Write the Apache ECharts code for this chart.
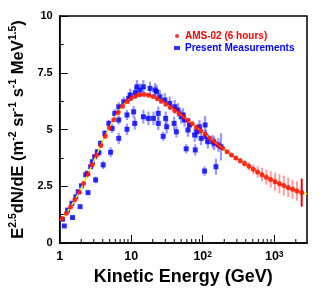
<!DOCTYPE html>
<html><head><meta charset="utf-8">
<script src="https://cdn.jsdelivr.net/npm/echarts@6/dist/echarts.min.js"></script>
<style>html,body{margin:0;padding:0;background:#fff}#c{width:327px;height:300px}</style>
</head><body><div id="c"></div>
<script>
// AMS-02 (6 hours): kinetic energy (GeV), flux, error
const amsE = [1.08,1.24,1.42,1.63,1.88,2.16,2.48,2.85,3.27,3.76,4.32,4.97,5.71,6.57,7.55,8.7,10.0,11.5,13.2,15.2,17.5,20.2,23.2,26.7,30.7,35.3,40.6,46.7,53.8,61.9,71.2,82.0,94.3,108,125,144,165,190,219,252,290,334,384,442,509,585,674,775,892,1027,1182,1360,1565,1801,2073,2420];
const amsY = [1.08,1.31,1.59,1.90,2.24,2.62,3.03,3.45,3.87,4.30,4.70,5.08,5.43,5.75,6.02,6.23,6.38,6.48,6.53,6.54,6.51,6.45,6.36,6.25,6.12,5.98,5.84,5.70,5.56,5.41,5.25,5.10,4.94,4.79,4.63,4.47,4.32,4.17,4.02,3.88,3.75,3.62,3.50,3.38,3.25,3.13,3.01,2.90,2.80,2.70,2.61,2.53,2.45,2.37,2.29,2.22];
const amsErr = [0.04,0.04,0.04,0.04,0.04,0.04,0.04,0.04,0.04,0.04,0.04,0.04,0.04,0.04,0.04,0.04,0.04,0.04,0.04,0.04,0.04,0.04,0.04,0.04,0.04,0.04,0.04,0.04,0.04,0.04,0.04,0.04,0.04,0.04,0.04,0.05,0.05,0.05,0.06,0.08,0.10,0.12,0.15,0.18,0.21,0.25,0.30,0.33,0.36,0.40,0.42,0.44,0.43,0.42,0.42,0.62];
// fitted curve (yellow)
const fitE = [1.0].concat(amsE, [2870]);
const fitY = [1.0].concat(amsY, [2.16]);
// Present Measurements
const pmE = [1.10,1.16,1.29,1.48,1.51,1.68,1.81,1.93,2.01,2.31,2.44,2.49,2.71,2.86,3.08,3.18,3.35,3.54,3.72,4.06,4.28,4.86,5.15,5.41,5.89,6.69,6.69,6.69,7.86,8.73,8.73,9.2,9.7,10.8,11.2,11.4,12.0,13.3,14.8,14.8,17.4,18.3,20.5,21.5,22.6,23.9,23.9,25.2,28.0,29.5,30.3,31.3,34.6,39.8,40.6,42.8,45.0,50.0,53.0,55.7,58.7,62.0,65.5,77.0,78.6,83.0,90.0,95.0,106,108,111,118,138,145,153,165,180];
const pmY = [1.05,0.75,1.45,1.75,1.12,2.04,2.26,1.60,2.52,3.00,3.07,2.22,3.36,3.58,3.80,2.78,4.02,3.98,4.39,3.44,4.83,5.27,4.00,5.05,5.71,6.00,4.61,5.42,6.22,5.01,5.64,6.37,6.52,5.78,5.27,6.62,6.88,6.74,5.56,6.88,5.49,6.81,5.49,6.74,6.67,5.71,5.27,6.44,4.70,6.30,5.49,5.12,6.15,5.27,6.00,4.90,5.86,5.56,5.64,5.42,4.15,4.98,5.20,4.76,4.10,4.90,5.12,4.61,3.17,5.20,4.68,4.46,4.46,4.39,3.36,4.32,4.24];
const pmErr = [0.04,0.04,0.05,0.05,0.05,0.05,0.06,0.06,0.06,0.07,0.07,0.08,0.08,0.09,0.10,0.15,0.10,0.12,0.12,0.18,0.14,0.15,0.22,0.20,0.18,0.20,0.25,0.20,0.22,0.25,0.22,0.25,0.28,0.25,0.28,0.28,0.30,0.28,0.30,0.30,0.30,0.30,0.30,0.30,0.30,0.30,0.30,0.30,0.20,0.30,0.30,0.30,0.30,0.30,0.30,0.25,0.30,0.30,0.30,0.30,0.20,0.30,0.30,0.30,0.25,0.30,0.30,0.30,0.20,0.40,0.30,0.30,0.30,0.30,0.35,0.30,0.60];
const xMinor = [2,3,4,5,6,7,8,9,20,30,40,50,60,70,80,90,200,300,400,500,600,700,800,900,2000];
const yTicks = ['0','2.5','5','7.5','10'];

const FONT = 'Liberation Sans';
const chart = echarts.init(document.getElementById('c'), null, {renderer:'canvas'});
const errData = (E, Y, Er) => E.map((e,i)=>[e, Y[i]-Er[i], Y[i]+Er[i]]);
function errRender(color, width, lastColor){
  return function(params, api){
    const x = api.value(0);
    const p1 = api.coord([x, api.value(1)]);
    const p2 = api.coord([x, api.value(2)]);
    const isLast = lastColor && params.dataIndex === params.dataInsideLength - 1;
    return {type:'line', shape:{x1:p1[0],y1:p1[1],x2:p2[0],y2:p2[1]},
      style:{stroke: isLast ? lastColor : color, lineWidth: width}};
  };
}
const sup = {fontSize: 10.5, fontWeight:'bold', fontFamily: FONT, verticalAlign:'top', lineHeight: 10, color:'#000'};
const nrm = {fontSize: 16.5, fontWeight:'bold', fontFamily: FONT, lineHeight: 20, color:'#000'};
chart.setOption({
  animation:false,
  backgroundColor:'#fff',
  grid:{left:57, right:20, top:16, bottom:57, show:true, borderColor:'#000', borderWidth:1.5, backgroundColor:'transparent'},
  legend:{
    orient:'vertical', left:169, top:26, itemWidth:6, itemHeight:4, itemGap:2,
    textStyle:{fontFamily:FONT, fontWeight:'bold', fontSize:10},
    data:[
      {name:'AMS-02 (6 hours)', icon:'circle', textStyle:{color:'#ff0000'}},
      {name:'Present Measurements', icon:'rect', textStyle:{color:'#0000ff'}}
    ]
  },
  xAxis:{
    type:'log', logBase:10, min:1, max:2870,
    name:'Kinetic Energy (GeV)', nameLocation:'middle', nameGap:11,
    nameTextStyle:{fontFamily:FONT, fontWeight:'bold', fontSize:18, color:'#000'},
    axisLine:{lineStyle:{color:'#000', width:1.5}},
    axisTick:{inside:true, length:8, lineStyle:{color:'#000'}},
    splitLine:{show:false},
    axisLabel:{
      margin:7, showMaxLabel:false, color:'#000', fontFamily:FONT, fontWeight:'bold', fontSize:12.5,
      formatter:function(v){
        const k = Math.round(Math.log10(v));
        if (Math.abs(Math.log10(v)-k) > 1e-6) return '';
        if (k === 0) return '1';
        if (k === 1) return '10';
        return '10{s|' + k + '}';
      },
      rich:{s:{fontSize:8.5, fontWeight:'bold', fontFamily:FONT, verticalAlign:'top', lineHeight:8, color:'#000'}}
    }
  },
  yAxis:{
    type:'value', min:0, max:10, interval:2.5,
    name:'{n|E}{s|2.5}{n|dN/dE (m}{s|-2}{n| sr}{s|-1}{n| s}{s|-1}{n| MeV}{s|1.5}{n|)}',
    nameLocation:'middle', nameGap:26, nameRotate:90,
    nameTextStyle:{rich:{n:nrm, s:sup}},
    axisLine:{lineStyle:{color:'#000', width:1.5}},
    axisTick:{inside:true, length:8, lineStyle:{color:'#000'}},
    minorTick:{show:true, splitNumber:2, length:4, lineStyle:{color:'#000'}},
    splitLine:{show:false},
    axisLabel:{margin:7, color:'#000', fontFamily:FONT, fontWeight:'bold', fontSize:11,
      formatter:function(v){ return yTicks[Math.round(v/2.5)]; }}
  },
  series:[
    {type:'custom', silent:true, data:xMinor.map(v=>[v,0]), encode:{x:0,y:1},
     renderItem:function(params, api){
       const p = api.coord([api.value(0), 0]);
       return {type:'line', shape:{x1:p[0],y1:p[1],x2:p[0],y2:p[1]-4}, style:{stroke:'#000', lineWidth:1}};
     }, z:5},
    {type:'custom', name:'pmErr', data:errData(pmE,pmY,pmErr), encode:{x:0,y:[1,2]},
     renderItem:errRender('rgba(50,50,255,0.5)', 2.2), z:2},
    {type:'scatter', name:'Present Measurements', symbol:'rect', symbolSize:5,
     itemStyle:{color:'#0000ff'}, data:pmE.map((e,i)=>[e,pmY[i]]), z:3},
    {type:'line', name:'fit', smooth:true, symbol:'none', lineStyle:{color:'#ffee00', width:1.5},
     data:fitE.map((e,i)=>[e,fitY[i]]), z:4},
    {type:'custom', name:'amsErr', data:errData(amsE,amsY,amsErr), encode:{x:0,y:[1,2]},
     renderItem:errRender('rgba(255,60,60,0.5)', 2, '#ee0000'), z:4},
    {type:'scatter', name:'AMS-02 (6 hours)', symbol:'circle', symbolSize:5,
     itemStyle:{color:'#ff0000'}, data:amsE.map((e,i)=>[e,amsY[i]]), z:6}
  ]
});
</script></body></html>
